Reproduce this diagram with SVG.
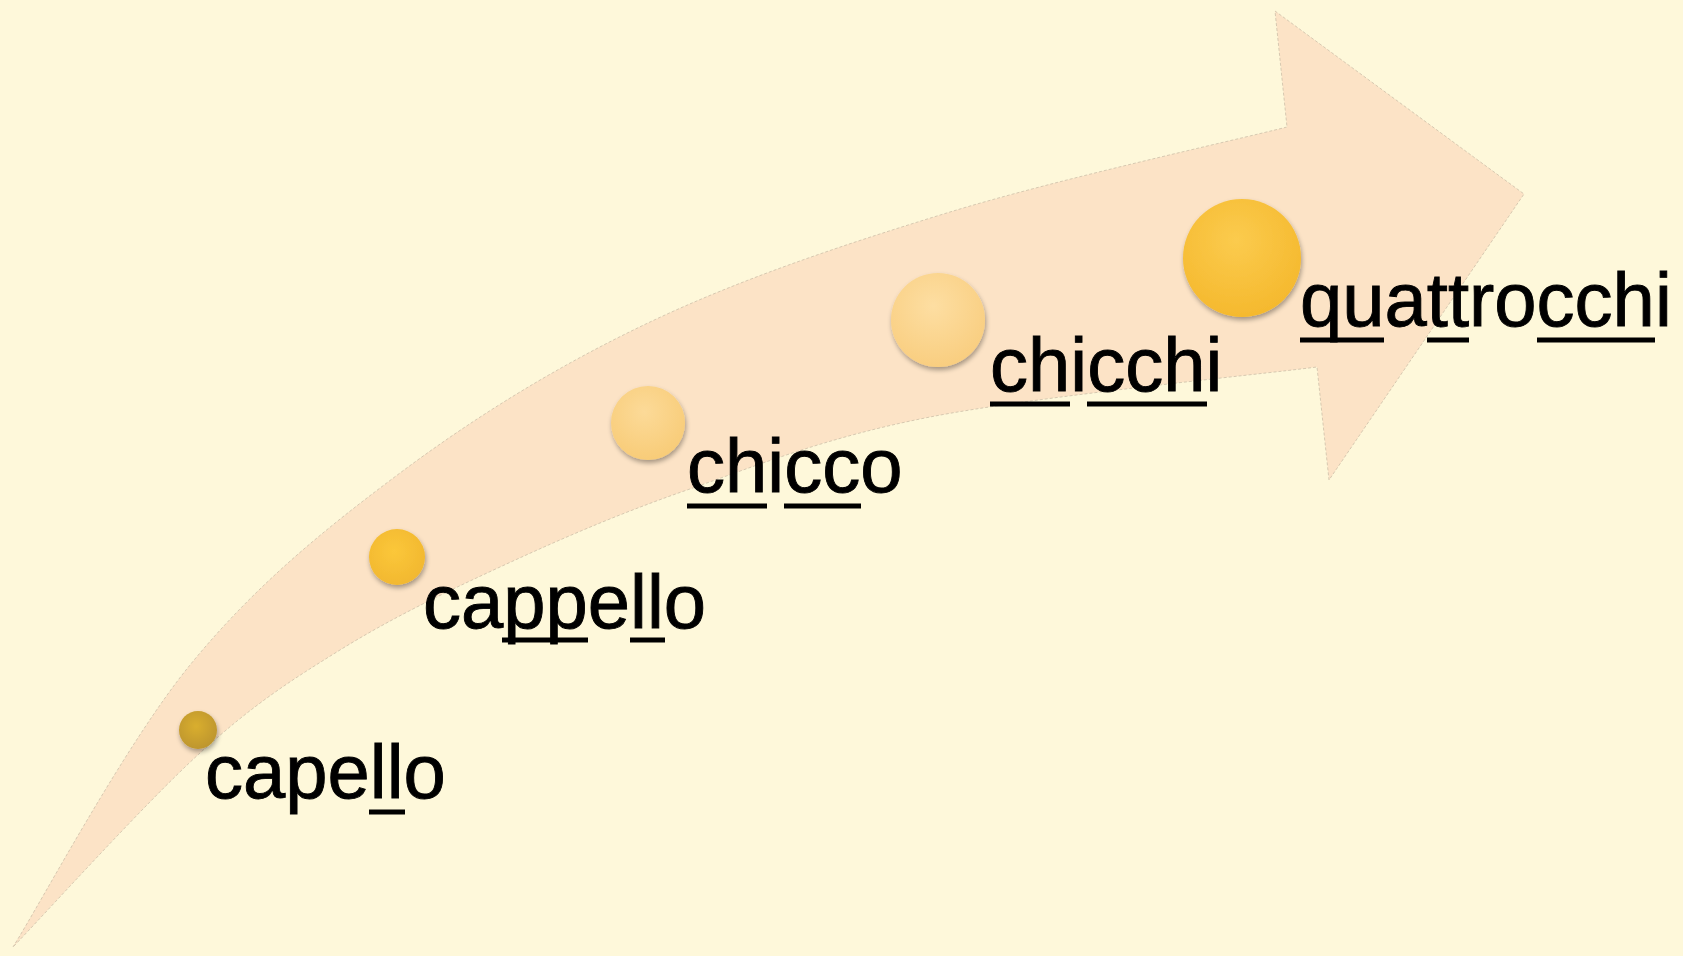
<svg xmlns="http://www.w3.org/2000/svg" width="1683" height="956" viewBox="0 0 1683 956">
<style>
.lbl{font-family:"Liberation Sans",Arial,Helvetica,sans-serif;font-size:76px;fill:#000;stroke:#000;stroke-width:0.9}
.ul{stroke:#000;stroke-width:5;stroke-linecap:butt}
</style>
<defs>
<radialGradient id="g1" cx="0.45" cy="0.4" r="0.6"><stop offset="0" stop-color="#D9AE2E"/><stop offset="1" stop-color="#BE962E"/></radialGradient>
<radialGradient id="g2" cx="0.45" cy="0.4" r="0.6"><stop offset="0" stop-color="#FBC73A"/><stop offset="1" stop-color="#F2B830"/></radialGradient>
<radialGradient id="g3" cx="0.45" cy="0.35" r="0.65"><stop offset="0" stop-color="#FCDA98"/><stop offset="1" stop-color="#F8CC78"/></radialGradient>
<radialGradient id="g4" cx="0.45" cy="0.35" r="0.65"><stop offset="0" stop-color="#FDDEA2"/><stop offset="1" stop-color="#F9CE80"/></radialGradient>
<radialGradient id="g5" cx="0.45" cy="0.35" r="0.65"><stop offset="0" stop-color="#FBCB4E"/><stop offset="1" stop-color="#F5B92E"/></radialGradient>
<filter id="sh" x="-30%" y="-30%" width="160%" height="160%">
<feGaussianBlur in="SourceAlpha" stdDeviation="2.5"/>
<feOffset dx="1" dy="3" result="b"/>
<feComponentTransfer><feFuncA type="linear" slope="0.35"/></feComponentTransfer>
<feMerge><feMergeNode/><feMergeNode in="SourceGraphic"/></feMerge>
</filter>
</defs>
<rect width="1683" height="956" fill="#FEF8DA"/>
<g id="arrow">
<path d="M13,947 C42.5,900 125.5,744 190,665 C254.5,586 323.3,530.2 400,473 C476.7,415.8 558.3,365.5 650,322 C741.7,278.5 843.8,244.5 950,212 C1056.2,179.5 1230.8,141.2 1287,127 L1275,11 L1524,194 L1329,480 L1317,367 C1252.5,375.3 1035,396.5 930,417 C825,437.5 758.7,465 687,490 C615.3,515 557.8,540.3 500,567 C442.2,593.7 390,619 340,650 C290,681 254.5,703.5 200,753 C145.5,802.5 44.2,914.7 13,947 Z" fill="#FCE3C6" stroke="#CDBFA8" stroke-width="0.8" stroke-dasharray="3 2"/>
</g>
<g id="node-capello">
<circle cx="198" cy="730" r="19" fill="url(#g1)" filter="url(#sh)"/>
<text class="lbl" x="205" y="798">capello</text>
<line class="ul" x1="369" y1="812" x2="405" y2="812"/>
</g>
<g id="node-cappello">
<circle cx="397" cy="557" r="28" fill="url(#g2)" filter="url(#sh)"/>
<text class="lbl" x="423" y="628">cappello</text>
<line class="ul" x1="502" y1="640" x2="588" y2="640"/>
<line class="ul" x1="630" y1="640" x2="665" y2="640"/>
</g>
<g id="node-chicco">
<circle cx="648" cy="423" r="37" fill="url(#g3)" filter="url(#sh)"/>
<text class="lbl" x="687" y="492">chicco</text>
<line class="ul" x1="687" y1="506" x2="767" y2="506"/>
<line class="ul" x1="784" y1="506" x2="861" y2="506"/>
</g>
<g id="node-chicchi">
<circle cx="938" cy="320" r="47" fill="url(#g4)" filter="url(#sh)"/>
<text class="lbl" x="990" y="391">chicchi</text>
<line class="ul" x1="990" y1="404" x2="1070" y2="404"/>
<line class="ul" x1="1087" y1="404" x2="1207" y2="404"/>
</g>
<g id="node-quattrocchi">
<circle cx="1242" cy="258" r="59" fill="url(#g5)" filter="url(#sh)"/>
<text class="lbl" x="1300" y="326">quattrocchi</text>
<line class="ul" x1="1300" y1="340" x2="1384" y2="340"/>
<line class="ul" x1="1427" y1="340" x2="1469" y2="340"/>
<line class="ul" x1="1537" y1="340" x2="1655" y2="340"/>
</g>
<g id="connectors"></g>
</svg>
